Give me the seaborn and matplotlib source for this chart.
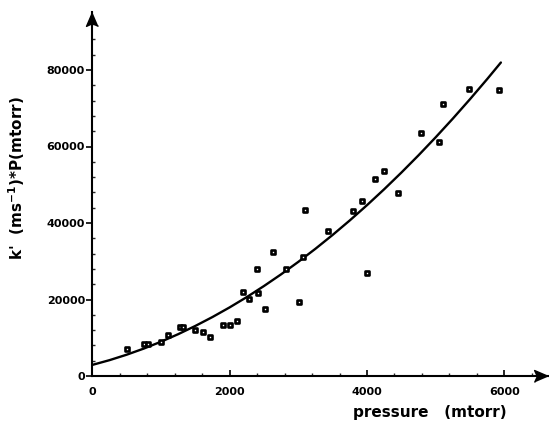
import numpy as np
import pandas as pd
import matplotlib
matplotlib.use("Agg")
import matplotlib.pyplot as plt
from matplotlib.ticker import MultipleLocator, FixedLocator
import seaborn as sns

# ---- data ----
pressure = [510, 753, 811, 1005, 1102, 1272, 1321, 1500, 1612, 1718,
            1908, 2005, 2103, 2199, 2282, 2403, 2418, 2519, 2636, 2816,
            3005, 3064, 3102, 3437, 3792, 3927, 4005, 4121, 4243, 4456,
            4782, 5049, 5112, 5486, 5927]
kP = [7060, 8450, 8450, 8800, 10600, 12700, 12700, 11950, 11600, 10200,
      13250, 13250, 14460, 21960, 20200, 27900, 21600, 17500, 32500, 27900,
      19350, 31200, 43400, 37900, 43050, 45830, 26900, 51420, 53500, 47900,
      63600, 61250, 71030, 75030, 74690]

# fitted curve as drawn in the reference
curve_x = [0, 250, 500, 750, 1000, 1250, 1500, 1750, 2000, 2250, 2500, 2750,
           3000, 3250, 3500, 3750, 4000, 4250, 4500, 4750, 5000, 5250, 5500,
           5750, 5950]
curve_y = [2900, 4140, 5565, 7170, 8960, 10930, 13085, 15420, 17940, 20640,
           23525, 26590, 29840, 33270, 36885, 40680, 44660, 48820, 53165,
           57690, 62400, 67290, 72365, 77620, 81960]

x_major = [0, 2000, 4000, 6000]
y_major = [0, 20000, 40000, 60000, 80000]
x_label = "pressure   (mtorr)"
y_label = r"k'  (ms$^{-1}$)*P(mtorr)"

sns.set_theme(style="white")
plt.rcParams['font.family'] = ['DejaVu Sans']
plt.rcParams['mathtext.fontset'] = 'dejavusans'
plt.rcParams['mathtext.default'] = 'bf'

W, H = 549, 428
fig = plt.figure(figsize=(W / 100, H / 100), dpi=100)
fig.patch.set_facecolor("white")

x0_px, y0_px = 92.3, 376.0
xr_px, yt_px = 548.0, 12.3
ax = fig.add_axes([x0_px / W, (H - y0_px) / H, (xr_px - x0_px) / W, (y0_px - yt_px) / H])
ax.set_facecolor("white")

xmax = (xr_px - x0_px) / 0.06867
ymax = (y0_px - yt_px) / 0.003825

df_pts = pd.DataFrame({"pressure": pressure, "kP": kP})
df_curve = pd.DataFrame({"pressure": curve_x, "kP": curve_y})

sns.lineplot(data=df_curve, x="pressure", y="kP", ax=ax, color="black",
             linewidth=1.7, sort=False, estimator=None, zorder=2)
sns.scatterplot(data=df_pts, x="pressure", y="kP", ax=ax, marker="s", s=9,
                facecolor="white", edgecolor="black", linewidth=1.9, zorder=3)

ax.set_xlim(0, xmax)
ax.set_ylim(0, ymax)

for side in ["top", "right"]:
    ax.spines[side].set_visible(False)
for side in ["left", "bottom"]:
    ax.spines[side].set_color("black")
    ax.spines[side].set_linewidth(1.5)

ax.xaxis.set_major_locator(FixedLocator(x_major))
ax.xaxis.set_minor_locator(MultipleLocator(400))
ax.yaxis.set_major_locator(FixedLocator(y_major))
ax.yaxis.set_minor_locator(MultipleLocator(4000))
ax.set_xticklabels([str(v) for v in x_major])
ax.set_yticklabels([str(v) for v in y_major])

ax.tick_params(axis="x", which="major", direction="in", length=4.0, width=1.2,
               pad=8, labelsize=8, colors="black", bottom=True)
ax.tick_params(axis="x", which="minor", direction="in", length=2.5, width=1.0, bottom=True)
ax.tick_params(axis="y", which="major", direction="out", length=4.3, width=1.2,
               pad=1, labelsize=8, colors="black", left=True)
ax.tick_params(axis="y", which="minor", direction="in", length=2.5, width=1.0, left=True)
for lab in ax.get_xticklabels() + ax.get_yticklabels():
    lab.set_fontweight("bold")

ax.set_xlabel("")
ax.set_ylabel("")

# arrow heads at the axis ends
up = [(0, 0), (-0.43, -1), (0, -0.8), (0.43, -1)]
right = [(0, 0), (-1, 0.43), (-0.8, 0), (-1, -0.43)]
ax.plot([0], [1], marker=up, markersize=20, color="black", transform=ax.transAxes,
        clip_on=False, linestyle="none")
ax.plot([1], [0], marker=right, markersize=20, color="black", transform=ax.transAxes,
        clip_on=False, linestyle="none")

fig.text(430 / W, 1 - 413 / H, x_label, ha="center", va="center",
         fontsize=11, fontweight="bold", color="black")
fig.text(17 / W, 1 - 178 / H, y_label, ha="center", va="center", rotation=90,
         fontsize=11, fontweight="bold", color="black")

fig.savefig("out.png", dpi=100, facecolor="white")
